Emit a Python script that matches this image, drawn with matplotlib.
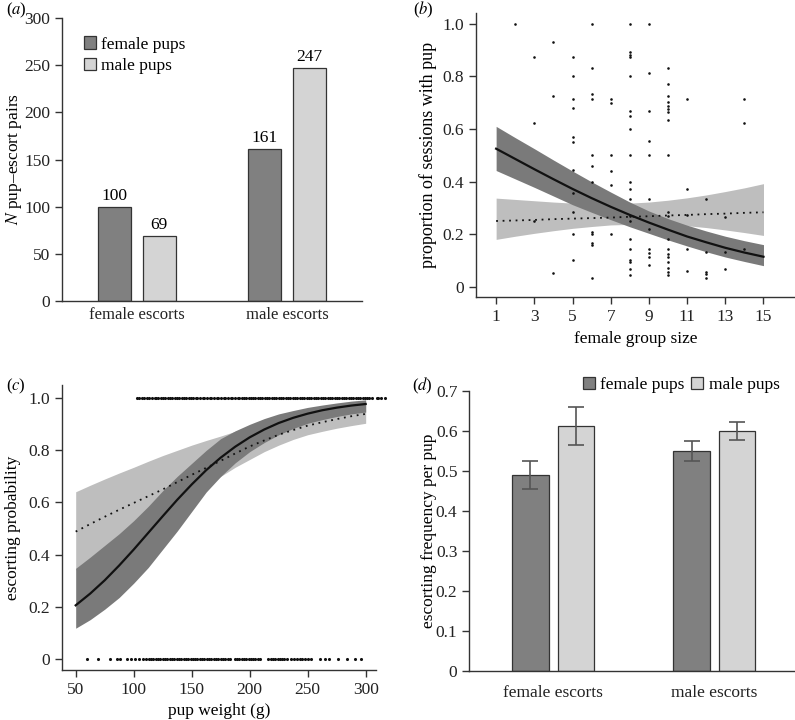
import numpy as np
import matplotlib
matplotlib.use('Agg')
import matplotlib.pyplot as plt

plt.rcParams['font.family'] = 'serif'
plt.rcParams['font.serif'] = ['Liberation Serif', 'DejaVu Serif']
plt.rcParams['mathtext.fontset'] = 'stix'
plt.rcParams['font.size'] = 11.5

DARK = '#808080'
LIGHT = '#d4d4d4'
BAND_DARK = '#7a7a7a'
BAND_LIGHT = '#bebebe'
AXC = '#333333'

# ---- data (a): number of pup-escort pairs
escort_cats = ['female escorts', 'male escorts']
pairs_female_pups = [100, 161]
pairs_male_pups = [69, 247]

# ---- data (b): proportion of sessions with pup vs female group size
group_size = [2, 3, 3, 3, 4, 4, 4,
              5, 5, 5, 5, 5, 5, 5, 5, 5, 5, 5,
              6, 6, 6, 6, 6, 6, 6, 6, 6, 6, 6, 6,
              7, 7, 7, 7, 7, 7,
              8, 8, 8, 8, 8, 8, 8, 8, 8, 8, 8, 8, 8, 8, 8, 8, 8, 8, 8, 8,
              9, 9, 9, 9, 9, 9, 9, 9, 9, 9, 9,
              10, 10, 10, 10, 10, 10, 10, 10, 10, 10, 10, 10, 10, 10, 10, 10, 10, 10, 10,
              11, 11, 11, 11, 11,
              12, 12, 12, 12, 12,
              13, 13, 13,
              14, 14, 14]
prop_sessions = [1.0, 0.873, 0.624, 0.251, 0.929, 0.726, 0.051,
                 0.873, 0.8, 0.714, 0.678, 0.571, 0.55, 0.444, 0.358, 0.284, 0.2, 0.1,
                 1.0, 0.833, 0.733, 0.714, 0.5, 0.458, 0.4, 0.207, 0.2, 0.165, 0.159, 0.032,
                 0.714, 0.7, 0.5, 0.439, 0.385, 0.2,
                 1.0, 0.891, 0.882, 0.873, 0.8, 0.667, 0.65, 0.6, 0.5, 0.4, 0.373, 0.333, 0.269, 0.249, 0.18, 0.143, 0.1, 0.094, 0.066, 0.046,
                 1.0, 0.812, 0.667, 0.556, 0.5, 0.333, 0.22, 0.143, 0.127, 0.114, 0.081,
                 0.833, 0.772, 0.726, 0.704, 0.688, 0.676, 0.665, 0.636, 0.5, 0.286, 0.269, 0.18, 0.143, 0.124, 0.112, 0.094, 0.072, 0.056, 0.046,
                 0.714, 0.373, 0.272, 0.143, 0.061,
                 0.333, 0.132, 0.056, 0.048, 0.032,
                 0.266, 0.132, 0.066,
                 0.714, 0.624, 0.143]
fit_x_b = [1, 2, 3, 4, 5, 6, 7, 8, 9, 10, 11, 12, 13, 14, 15]
fem_fit = [0.525, 0.486, 0.447, 0.409, 0.372, 0.337, 0.304, 0.273, 0.244, 0.217, 0.191, 0.169, 0.148, 0.130, 0.114]
fem_lo = [0.442, 0.410, 0.378, 0.345, 0.312, 0.283, 0.255, 0.228, 0.203, 0.178, 0.155, 0.133, 0.113, 0.096, 0.080]
fem_hi = [0.610, 0.567, 0.525, 0.482, 0.440, 0.399, 0.360, 0.322, 0.288, 0.259, 0.234, 0.212, 0.192, 0.175, 0.160]
male_fit = [0.250, 0.252, 0.254, 0.257, 0.259, 0.261, 0.263, 0.266, 0.268, 0.271, 0.273, 0.276, 0.278, 0.281, 0.283]
male_lo = [0.180, 0.192, 0.203, 0.213, 0.222, 0.229, 0.235, 0.237, 0.238, 0.236, 0.232, 0.225, 0.216, 0.206, 0.195]
male_hi = [0.337, 0.332, 0.327, 0.322, 0.318, 0.316, 0.316, 0.318, 0.322, 0.329, 0.338, 0.349, 0.362, 0.376, 0.392]

# ---- data (c): escorting probability vs pup weight
w_escorted = [103, 105, 107.5, 109, 111.5, 113, 116, 118, 119.5, 121, 123.5, 125, 127, 129.5, 131, 133,
              135.5, 137, 139, 141.5, 143, 145, 147.5, 149, 151, 153.5, 155, 157, 159.5, 161, 163,
              165.5, 167, 169, 171.5, 173, 175, 177.5, 179, 181, 183.5, 185, 187, 189.5, 191, 193,
              195.5, 197, 199, 201.5, 203, 205, 207.5, 209, 211, 213.5, 215, 217, 219.5, 221, 223,
              225.5, 227, 229, 231.5, 233, 235, 237.5, 239, 241, 243.5, 245, 247, 249.5, 251, 253,
              255.5, 257, 259, 261.5, 263, 265, 267.5, 269, 271, 273.5, 275, 277, 279.5, 281, 283,
              285.5, 287, 289, 291.5, 293, 295, 297.5, 299, 301.5, 303, 305.5, 309.5, 311, 313.5, 317]
w_not_escorted = [59.5, 69.5, 79.5, 86, 88, 94, 97.5, 101, 104.5, 108, 111, 113, 115, 117, 119, 121,
                  123, 125, 127, 129, 131, 133, 135, 137, 139, 141, 143, 145, 147, 149, 151, 153,
                  155, 157, 159, 161, 163, 165, 167, 169, 171, 173, 175, 177, 179, 181, 183, 187,
                  189, 191, 193, 195, 197, 199, 201, 203, 205, 207, 209, 216, 218, 220, 222, 224,
                  226, 228, 230, 232, 236, 238, 240.5, 243, 245, 248, 250.5, 253, 260.5, 265, 268,
                  276, 283.5, 291, 296]
fit_x_c = [50, 62.5, 75, 87.5, 100, 112.5, 125, 137.5, 150, 162.5, 175,
           187.5, 200, 212.5, 225, 237.5, 250, 262.5, 275, 287.5, 300]
weight_fit = [0.205, 0.250, 0.301, 0.358, 0.419, 0.483, 0.547, 0.610, 0.669, 0.724, 0.772,
              0.814, 0.850, 0.880, 0.905, 0.925, 0.941, 0.954, 0.964, 0.972, 0.978]
weight_lo = [0.117, 0.150, 0.190, 0.235, 0.290, 0.350, 0.420, 0.490, 0.565, 0.640, 0.700,
             0.752, 0.795, 0.830, 0.860, 0.884, 0.904, 0.918, 0.930, 0.940, 0.947]
weight_hi = [0.347, 0.390, 0.435, 0.480, 0.530, 0.585, 0.645, 0.700, 0.750, 0.800, 0.845,
             0.875, 0.900, 0.922, 0.940, 0.953, 0.965, 0.974, 0.982, 0.989, 0.994]
dotted_fit = [0.488, 0.517, 0.545, 0.572, 0.598, 0.624, 0.650, 0.678, 0.706, 0.733, 0.760,
              0.788, 0.815, 0.838, 0.860, 0.878, 0.895, 0.908, 0.920, 0.931, 0.940]
dotted_lo = [0.340, 0.380, 0.420, 0.455, 0.490, 0.525, 0.560, 0.595, 0.630, 0.665, 0.700,
             0.735, 0.765, 0.795, 0.820, 0.842, 0.860, 0.873, 0.885, 0.895, 0.904]
dotted_hi = [0.641, 0.666, 0.690, 0.713, 0.735, 0.758, 0.780, 0.800, 0.820, 0.838, 0.855,
             0.873, 0.890, 0.906, 0.920, 0.933, 0.945, 0.953, 0.960, 0.968, 0.975]

# ---- data (d): escorting frequency per pup
freq_female_pups = [0.490, 0.550]
err_female_pups = [0.035, 0.025]
freq_male_pups = [0.612, 0.600]
err_male_pups = [0.048, 0.022]

fig = plt.figure(figsize=(7.95, 7.2), dpi=100)
W, H = 795.0, 720.0


def add_ax(l, r, t, b):
    return fig.add_axes([l / W, 1 - b / H, (r - l) / W, (b - t) / H])


def style(ax):
    for s in ['top', 'right']:
        ax.spines[s].set_visible(False)
    for s in ['left', 'bottom']:
        ax.spines[s].set_color(AXC)
        ax.spines[s].set_linewidth(1.0)
    ax.tick_params(colors=AXC, labelcolor='#222222', width=1.0, length=5, direction='out')


# ---------------- (a)
ax = add_ax(62, 362, 18, 301)
style(ax)
x = np.arange(len(escort_cats))
b1 = ax.bar(x - 0.147, pairs_female_pups, 0.22, color=DARK, edgecolor=AXC, linewidth=0.9, label='female pups')
b2 = ax.bar(x + 0.147, pairs_male_pups, 0.22, color=LIGHT, edgecolor=AXC, linewidth=0.9, label='male pups')
for bars, vals in [(b1, pairs_female_pups), (b2, pairs_male_pups)]:
    for r, v in zip(bars, vals):
        ax.text(r.get_x() + r.get_width() / 2, v + 3, str(v), ha='center', va='bottom', fontsize=12.5)
ax.set_xlim(-0.5, 1.5)
ax.set_ylim(0, 300)
ax.set_yticks([0, 50, 100, 150, 200, 250, 300])
ax.set_xticks(x)
ax.set_xticklabels(escort_cats, fontsize=12)
ax.tick_params(axis='x', length=0, pad=4)
ax.tick_params(axis='y', labelsize=12.5)
ax.set_ylabel(r'$N$ pup–escort pairs', fontsize=12.5)
ax.yaxis.set_label_coords(-0.127, 0.5)
ax.legend(loc='upper left', bbox_to_anchor=(0.02, 0.99), frameon=False, fontsize=12.5,
          handlelength=0.7, handleheight=0.7, handletextpad=0.3, labelspacing=0.3)
fig.text(6 / W, 1 - 10 / H, r'($\mathit{a}$)', fontsize=12, va='center')

# ---------------- (b)
ax = add_ax(476, 795, 13.3, 296.7)
style(ax)
ax.fill_between(fit_x_b, male_lo, male_hi, color=BAND_LIGHT, linewidth=0, zorder=1)
ax.fill_between(fit_x_b, fem_lo, fem_hi, color=BAND_DARK, linewidth=0, zorder=2)
ax.plot(fit_x_b, fem_fit, color='#111111', lw=1.6, zorder=4)
ax.plot(fit_x_b, male_fit, color='#111111', lw=1.3, ls=(0, (1, 2.6)), zorder=4)
ax.scatter(group_size, prop_sessions, s=3.5, color='#111111', linewidths=0, zorder=5)
ax.set_xlim(-0.054, 16.65)
ax.set_ylim(-0.038, 1.04)
ax.set_xticks([1, 3, 5, 7, 9, 11, 13, 15])
ax.set_yticks([0, 0.2, 0.4, 0.6, 0.8, 1.0])
ax.set_yticklabels(['0', '0.2', '0.4', '0.6', '0.8', '1.0'])
ax.tick_params(labelsize=12.5)
ax.set_xlabel('female group size', fontsize=12.5, labelpad=5)
ax.set_ylabel('proportion of sessions with pup', fontsize=13)
ax.yaxis.set_label_coords(-0.122, 0.5)
fig.text(413 / W, 1 - 10 / H, r'($\mathit{b}$)', fontsize=12, va='center')

# ---------------- (c)
ax = add_ax(62, 376, 385, 670)
style(ax)
ax.fill_between(fit_x_c, dotted_lo, dotted_hi, color=BAND_LIGHT, linewidth=0, zorder=1)
ax.fill_between(fit_x_c, weight_lo, weight_hi, color=BAND_DARK, linewidth=0, zorder=2)
ax.plot(fit_x_c, weight_fit, color='#111111', lw=1.6, zorder=4)
ax.plot(fit_x_c, dotted_fit, color='#111111', lw=1.3, ls=(0, (1, 2.6)), zorder=4)
ax.scatter(w_escorted, np.ones(len(w_escorted)), s=5, color='#111111', linewidths=0, zorder=5, clip_on=False)
ax.scatter(w_not_escorted, np.zeros(len(w_not_escorted)), s=5, color='#111111', linewidths=0, zorder=5, clip_on=False)
ax.set_xlim(38.2, 308.9)
ax.set_ylim(-0.0434, 1.051)
ax.set_xticks([50, 100, 150, 200, 250, 300])
ax.set_yticks([0, 0.2, 0.4, 0.6, 0.8, 1.0])
ax.set_yticklabels(['0', '0.2', '0.4', '0.6', '0.8', '1.0'])
ax.tick_params(labelsize=12.5)
ax.set_xlabel('pup weight (g)', fontsize=12.5, labelpad=4)
ax.set_ylabel('escorting probability', fontsize=12.5)
ax.yaxis.set_label_coords(-0.13, 0.5)
fig.text(6 / W, 1 - 386 / H, r'($\mathit{c}$)', fontsize=12, va='center')

# ---------------- (d)
ax = add_ax(469.3, 795, 391, 670.7)
style(ax)
ax.bar(x - 0.141, freq_female_pups, 0.227, yerr=err_female_pups, color=DARK, edgecolor=AXC, linewidth=0.9,
       error_kw=dict(ecolor='#555555', elinewidth=1.2, capsize=6, capthick=1.2), label='female pups')
ax.bar(x + 0.141, freq_male_pups, 0.227, yerr=err_male_pups, color=LIGHT, edgecolor=AXC, linewidth=0.9,
       error_kw=dict(ecolor='#555555', elinewidth=1.2, capsize=6, capthick=1.2), label='male pups')
ax.set_xlim(-0.52, 1.5)
ax.set_ylim(0, 0.7)
ax.set_yticks([0, 0.1, 0.2, 0.3, 0.4, 0.5, 0.6, 0.7])
ax.set_yticklabels(['0', '0.1', '0.2', '0.3', '0.4', '0.5', '0.6', '0.7'])
ax.set_xticks(x)
ax.set_xticklabels(escort_cats, fontsize=12.5)
ax.tick_params(axis='x', length=0, pad=10)
ax.tick_params(axis='y', labelsize=12.5)
ax.set_ylabel('escorting frequency per pup', fontsize=12.5)
ax.yaxis.set_label_coords(-0.098, 0.5)
ax.legend(loc='center', bbox_to_anchor=(0.65, 1.02), ncol=2, frameon=False, fontsize=12.5,
          handlelength=0.7, handleheight=0.7, handletextpad=0.3, columnspacing=0.4)
fig.text(412 / W, 1 - 386 / H, r'($\mathit{d}$)', fontsize=12, va='center')

fig.savefig('out.png', dpi=100)
